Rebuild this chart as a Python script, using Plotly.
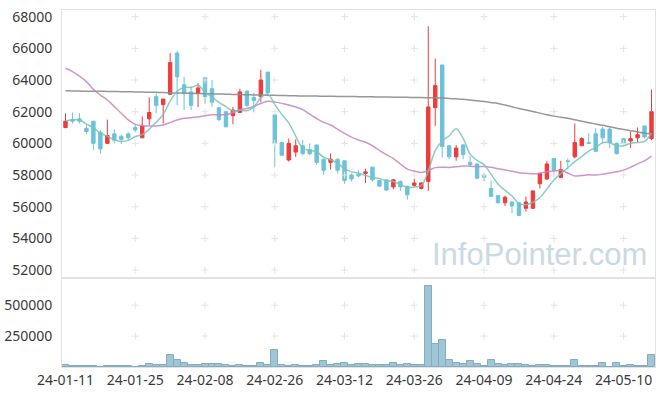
import plotly.graph_objects as go

dates = ["24-01-11","24-01-12","24-01-15","24-01-16","24-01-17","24-01-18","24-01-19","24-01-22","24-01-23","24-01-24",
         "24-01-25","24-01-26","24-01-29","24-01-30","24-01-31","24-02-01","24-02-02","24-02-05","24-02-06","24-02-07",
         "24-02-08","24-02-13","24-02-14","24-02-15","24-02-16","24-02-19","24-02-20","24-02-21","24-02-22","24-02-23",
         "24-02-26","24-02-27","24-02-28","24-02-29","24-03-04","24-03-05","24-03-06","24-03-07","24-03-08","24-03-11",
         "24-03-12","24-03-13","24-03-14","24-03-15","24-03-18","24-03-19","24-03-20","24-03-21","24-03-22","24-03-25",
         "24-03-26","24-03-27","24-03-28","24-03-29","24-04-01","24-04-02","24-04-03","24-04-04","24-04-05","24-04-08",
         "24-04-09","24-04-11","24-04-12","24-04-15","24-04-16","24-04-17","24-04-18","24-04-19","24-04-22","24-04-23",
         "24-04-24","24-04-25","24-04-26","24-04-29","24-04-30","24-05-02","24-05-03","24-05-07","24-05-08","24-05-09",
         "24-05-10","24-05-13","24-05-14","24-05-16","24-05-17"]

opens = [61000,61500,61550,60950,61400,60700,60000,60600,60450,60600,
         61000,60350,61550,62950,62450,63100,65700,63700,63250,63150,
         64150,63450,62250,62000,61750,61950,63300,62900,62950,64500,
         61800,60050,58950,59450,59850,59600,59900,59000,58800,59000,
         58900,58000,58050,58100,58500,57650,57700,57250,57600,57300,
         57350,57150,57600,62250,64950,59850,59150,59900,58800,58700,
         58000,57150,56700,56250,56300,56250,55900,55900,57450,57750,
         59050,57850,58900,59150,59850,60050,60600,60900,60900,60000,
         60300,60150,60350,61100,60300]
highs = [61900,61950,61900,61200,61400,60850,61500,60900,60550,60700,
         61150,61700,62900,63150,62800,65700,65850,64200,63600,63800,
         64200,64000,62300,62050,62300,63450,63350,63200,64650,64500,
         61800,60100,60300,60250,60200,60000,59900,59050,59350,59050,
         58900,58100,58300,58400,58500,57700,57700,57750,57650,57300,
         57750,57550,67400,65350,64950,59850,59900,59950,59200,58750,
         58100,57650,56700,56700,56300,56250,56650,57000,58150,58900,
         59050,58900,59050,61250,60400,60650,60950,61050,61000,60050,
         60350,60750,61000,61100,63400]
lows = [60950,61250,61250,60600,59600,59350,59950,60000,59950,60200,
        60700,60350,61150,61900,61250,63050,62400,62100,62100,62300,
        62500,62300,61400,61000,61200,61900,62300,61950,62600,63100,
        58500,59200,58850,59150,59250,59250,58650,58000,58350,58100,
        57450,57600,57850,57500,57600,57250,57000,57100,57000,56450,
        57250,57100,57000,61100,59100,59000,58900,59000,58550,57750,
        57600,56650,56200,56050,55600,55400,55700,55850,57150,57700,
        58050,57800,58350,59050,59850,60000,59450,60000,59700,59300,
        59950,59700,60050,60300,60200]
closes = [61400,61400,61400,60750,60000,59650,60500,60200,60250,60350,
          60850,61100,61950,62400,62800,65100,64200,63150,62400,63500,
          62950,62600,61500,61050,62100,63250,62400,62700,64000,63200,
          60000,59250,60000,59850,59350,59350,58800,58300,59000,58300,
          57650,57750,57950,58200,57700,57300,57050,57700,57250,56750,
          57500,57500,62300,63650,59800,59150,59700,59300,58650,57800,
          57850,56650,56250,56600,56050,55450,56300,57000,58100,58700,
          58300,58350,58850,60050,60300,60000,59500,60350,60050,59350,
          60000,60300,60550,60400,62000]
volumes = [14000,6000,6000,11000,11000,3000,11000,6000,6000,6000,
           1000,6000,27000,19000,14000,100000,54000,35000,14000,19000,
           27000,27000,27000,19000,11000,19000,11000,11000,35000,19000,
           135000,19000,11000,19000,11000,11000,19000,46000,19000,27000,
           35000,19000,27000,27000,19000,19000,19000,35000,19000,27000,
           19000,19000,655000,189000,222000,60000,35000,27000,46000,27000,
           11000,54000,27000,19000,27000,27000,19000,11000,19000,19000,
           11000,11000,11000,54000,11000,11000,11000,35000,3000,35000,
           11000,19000,11000,11000,100000]
ma5 = [61420,61480,61480,61220,60990,60640,60460,60220,60120,60190,
       60430,60550,60900,61330,61820,62670,63290,63530,63530,63670,
       63240,62920,62590,62320,62040,62100,62060,62300,62890,63110,
       62460,61830,61290,60460,59690,59560,59470,59130,58960,58750,
       58410,58200,58130,57970,57850,57780,57640,57590,57400,57210,
       57250,57340,58260,59540,60150,60480,60920,60320,59320,58920,
       58660,58050,57440,57030,56680,56200,56130,56280,56580,57110,
       57680,58090,58460,58850,59170,59510,59740,60040,60040,59850,
       59850,60010,60050,60120,60650]
ma20 = [64740,64530,64250,63900,63410,63050,62740,62320,61900,61480,
        61200,61120,61100,61100,61160,61310,61480,61580,61620,61668,
        61745,61805,61810,61825,61930,62110,62205,62330,62518,62660,
        62618,62525,62428,62300,62128,61840,61570,61328,61158,60898,
        60633,60390,60213,60070,59850,59553,59285,59035,58698,58375,
        58250,58163,58278,58468,58490,58480,58525,58575,58558,58533,
        58543,58488,58403,58323,58240,58148,58110,58075,58118,58215,
        58255,58298,58125,57945,57970,58013,58003,58055,58125,58203,
        58310,58493,58708,58898,59195]
ma_long = [63320,63310,63300,63295,63290,63285,63280,63270,63265,63255,
           63250,63240,63230,63220,63205,63195,63180,63170,63160,63150,
           63140,63125,63115,63105,63090,63080,63070,63060,63050,63040,
           63030,63020,63010,63000,62995,62990,62985,62980,62975,62965,
           62960,62955,62950,62945,62940,62930,62925,62915,62910,62905,
           62900,62890,62880,62870,62860,62835,62810,62780,62735,62690,
           62640,62580,62520,62420,62310,62200,62100,62010,61910,61810,
           61720,61650,61580,61490,61390,61300,61220,61140,61050,60960,
           60880,60800,60720,60650,60590]
price_ticks = [52000,54000,56000,58000,60000,62000,64000,66000,68000]
vol_ticks = [250000,500000]
label_dates = dates[::10]

RED = "#ef3b3b"
BLUE = "#6cc3d9"
FONT = dict(family="Noto Sans", size=14, color="#3a3a3a")

fig = go.Figure()

fig.add_trace(go.Candlestick(x=dates, open=opens, high=highs, low=lows, close=closes,
                             xaxis="x", yaxis="y",
                             increasing=dict(line=dict(color=RED, width=1), fillcolor=RED),
                             decreasing=dict(line=dict(color=BLUE, width=1), fillcolor=BLUE),
                             whiskerwidth=0, showlegend=False))

fig.add_trace(go.Bar(x=dates, y=volumes, xaxis="x2", yaxis="y2",
                     marker=dict(color="rgba(155,195,212,0.95)", line=dict(color="#82acc0", width=1)),
                     showlegend=False))

# grid "+" marks
gx, gy = [], []
for d in label_dates[1:]:
    for v in price_ticks:
        gx.append(d); gy.append(v)
fig.add_trace(go.Scatter(x=gx, y=gy, mode="markers", xaxis="x", yaxis="y",
                         marker=dict(symbol="cross-thin", size=5, line=dict(color="#e4e4e4", width=1)),
                         hoverinfo="skip", showlegend=False))
vx, vy = [], []
for d in label_dates[1:]:
    for v in vol_ticks:
        vx.append(d); vy.append(v)
fig.add_trace(go.Scatter(x=vx, y=vy, mode="markers", xaxis="x2", yaxis="y2",
                         marker=dict(symbol="cross-thin", size=5, line=dict(color="#e4e4e4", width=1)),
                         hoverinfo="skip", showlegend=False))

fig.add_trace(go.Scatter(x=dates, y=ma_long, mode="lines", xaxis="x", yaxis="y",
                         line=dict(color="rgba(140,140,140,0.9)", width=1.5, shape="spline"), showlegend=False))
fig.add_trace(go.Scatter(x=dates, y=ma20, mode="lines", xaxis="x", yaxis="y",
                         line=dict(color="rgba(200,130,190,0.85)", width=1.5, shape="spline"), showlegend=False))
fig.add_trace(go.Scatter(x=dates, y=ma5, mode="lines", xaxis="x", yaxis="y",
                         line=dict(color="rgba(120,195,185,0.85)", width=1.5, shape="spline"), showlegend=False))

split = 89 / 357
fig.update_layout(
    width=665, height=396,
    margin=dict(l=62, r=10, t=10, b=29, autoexpand=False),
    paper_bgcolor="white", plot_bgcolor="white",
    font=FONT,
    bargap=0.0,
    hovermode=False,
    xaxis=dict(type="category", categoryorder="array", categoryarray=dates,
               domain=[0, 1], anchor="y", range=[-0.5, 84.5], automargin=False,
               showticklabels=False, showgrid=False, zeroline=False,
               showline=True, mirror=True, linecolor="#e2e2e2", linewidth=1,
               rangeslider=dict(visible=False), ticks=""),
    yaxis=dict(domain=[split, 1], anchor="x", range=[51500, 68420], automargin=False,
               tickvals=price_ticks, ticktext=[str(v) for v in price_ticks],
               showgrid=False, zeroline=False, showline=True, mirror=True,
               linecolor="#e2e2e2", linewidth=1, ticks="", ticklabelstandoff=6),
    xaxis2=dict(type="category", categoryorder="array", categoryarray=dates,
                domain=[0, 1], anchor="y2", range=[-0.5, 84.5], automargin=False,
                tickvals=label_dates, ticktext=label_dates, tickangle=0,
                showgrid=False, zeroline=False, showline=True, mirror=True,
                linecolor="#e2e2e2", linewidth=1, ticks="", ticklabelstandoff=0),
    yaxis2=dict(domain=[0, split], anchor="x2", range=[0, 720000], automargin=False,
                tickvals=vol_ticks, ticktext=[str(v) for v in vol_ticks],
                showgrid=False, zeroline=False, showline=True, mirror=True,
                linecolor="#e2e2e2", linewidth=1, ticks="", ticklabelstandoff=6),
    annotations=[dict(text="InfoPointer.com", xref="paper", yref="paper",
                      x=0.99, y=0.314, xanchor="right", yanchor="middle", showarrow=False,
                      font=dict(family="Liberation Sans", size=31, color="#c9d9e5"))],
)

fig.write_html("out.html", config={"displayModeBar": False},
               post_script="document.body.style.margin='0';document.body.style.overflow='hidden';")
